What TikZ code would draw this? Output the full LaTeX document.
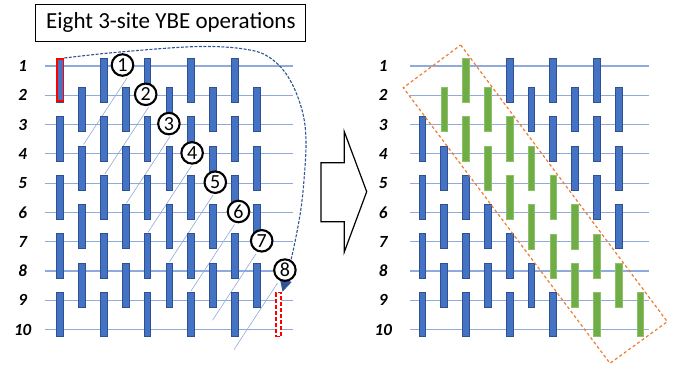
\documentclass[tikz,border=0pt]{standalone}
\usepackage{fontspec}
\setmainfont{Carlito}
\usetikzlibrary{arrows.meta}
\definecolor{barblue}{HTML}{4472C4}
\definecolor{baredge}{HTML}{2F528F}
\definecolor{bargreen}{HTML}{70AD47}
\definecolor{greenedge}{HTML}{8CC168}
\definecolor{wire}{HTML}{8FAADC}
\definecolor{curveblue}{HTML}{2F5597}
\definecolor{orangedash}{HTML}{ED7D31}
\definecolor{redbox}{HTML}{FF0000}
\begin{document}
\begin{tikzpicture}[x=1pt,y=-1pt,
  bluebar/.style={rectangle, fill=barblue, draw=baredge, line width=0.7pt, minimum width=6.7pt, minimum height=44.3pt, inner sep=0pt},
  greenbar/.style={rectangle, fill=bargreen, draw=greenedge, line width=0.5pt, minimum width=6.5pt, minimum height=44.3pt, inner sep=0pt},
  wireline/.style={draw=wire, line width=1.2pt},
  diag/.style={draw=wire, line width=0.6pt},
  rowlab/.style={font=\fontsize{17}{17}\selectfont\bfseries\itshape, inner sep=0pt},
  circnum/.style={circle, draw=black, line width=2.1pt, fill=white, minimum size=21.5pt, inner sep=0pt, font=\fontsize{20}{20}\selectfont},
  titlebox/.style={draw=black, line width=0.9pt, minimum width=270pt, minimum height=37.7pt, inner sep=0pt, font=\fontsize{23}{23}\selectfont},
  startbox/.style={rectangle, draw=redbox, line width=1.8pt, minimum width=6.8pt, minimum height=42.5pt, inner sep=0pt},
  goalbox/.style={rectangle, draw=redbox, fill=white, line width=1.6pt, dash pattern=on 4pt off 2pt, minimum width=5pt, minimum height=44pt, inner sep=0pt},
  movecurve/.style={draw=curveblue, line width=1.1pt, dash pattern=on 3pt off 1.5pt},
  regionbox/.style={draw=orangedash, line width=1.2pt, dash pattern=on 3pt off 2.5pt},
  blockarrow/.style={draw=black, line width=1.2pt, fill=white, line join=miter}
]
\useasboundingbox (0,0) rectangle (673,371);

% title
\node[titlebox] (title) at (170.9,22.9) {Eight 3-site YBE operations};

% wires and labels
\foreach \r in {1,...,10} {
  \pgfmathsetmacro\yy{66+29.3*(\r-1)}
  \node[rowlab] (ll\r) at (22.7,\yy) {\r};
  \node[rowlab] (rl\r) at (383.3,\yy) {\r};
  \coordinate (lwa\r) at (45,\yy);
  \coordinate (lwb\r) at (293,\yy);
  \coordinate (rwa\r) at (410,\yy);
  \coordinate (rwb\r) at (649,\yy);
  \draw[wireline] (lwa\r) -- (lwb\r);
  \draw[wireline] (rwa\r) -- (rwb\r);
}

% diagonal guide lines
\foreach \k in {1,...,8} {
  \coordinate (da\k) at ({127+21.5*(\k-1)},{78+29.3*(\k-1)});
  \coordinate (db\k) at ({83.5+21.5*(\k-1)},{144.5+29.3*(\k-1)});
  \draw[diag] (da\k) -- (db\k);
}

% left bars
\foreach \c in {0,...,9} {
  \foreach \r in {1,...,9} {
    \ifodd\numexpr\r-\c\relax
      \node[bluebar] (L\c-\r) at ({60+21.85*\c},{80.15+29.3*(\r-1)}) {};
    \fi
  }
}
\node[startbox] (start) at (L0-1) {};
\node[goalbox] (goal) at ({60+21.85*10},{80.15+29.3*8}) {};

% right bars
\foreach \c in {0,...,10} {
  \foreach \r in {1,...,9} {
    \pgfmathtruncatemacro\keep{(mod(abs(\r-\c),2)==1) && !(\c==0 && \r==1) && (\c<10 || \r==9)}
    \pgfmathtruncatemacro\isg{abs(\r-\c)==1}
    \ifnum\keep=1
      \ifnum\isg=1
        \node[greenbar] (R\c-\r) at ({422.3+21.8*\c},{80.15+29.3*(\r-1)}) {};
      \else
        \node[bluebar] (R\c-\r) at ({422.3+21.8*\c},{80.15+29.3*(\r-1)}) {};
      \fi
    \fi
  }
}

% orange region
\coordinate (oa) at (460.7,45);
\coordinate (ob) at (667.3,321.7);
\coordinate (oc) at (610,363.3);
\coordinate (od) at (403.3,87.7);
\draw[regionbox] (oa) -- (ob) -- (oc) -- (od) -- cycle;

% block arrow
\draw[blockarrow] (321,162.7) -- (344.3,162.7) -- (344.3,131.7) -- (366.7,191.7) -- (344.3,252) -- (344.3,221.7) -- (321,221.7) -- cycle;

% moving curve
\draw[movecurve, -{Triangle[length=12pt,width=12pt]}] plot[smooth, tension=0.6] coordinates {(start.north east) (120,52) (200,46.5) (250,50) (273,60) (290,80) (302,110) (306,140) (304,180) (300,215) (291.7,257) ([xshift=4pt]goal.north)};

% circled numbers
\foreach \k in {1,...,8} {
  \node[circnum] (n\k) at ({122.5+23.2*(\k-1)},{65+29.3*(\k-1)}) {\k};
}
\end{tikzpicture}
\end{document}
